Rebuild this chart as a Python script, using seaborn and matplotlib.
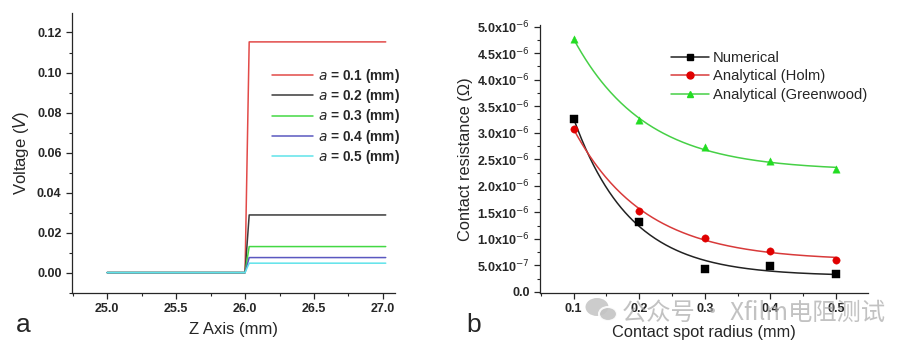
import numpy as np
import pandas as pd
import matplotlib
matplotlib.use("Agg")
import matplotlib.pyplot as plt
from matplotlib.lines import Line2D
from matplotlib.patches import Ellipse
from matplotlib.ticker import MultipleLocator, FuncFormatter
import seaborn as sns

# ---------------- data ----------------
# panel a: voltage profiles along Z
z_points = [25.0, 26.0, 26.03, 27.02]
radii_a = ["0.1", "0.2", "0.3", "0.4", "0.5"]
plateau_voltage = [0.1153, 0.0288, 0.0130, 0.0075, 0.0047]
colors_a = ["#e24a48", "#3a3a3a", "#44d844", "#5a58c0", "#5fe3ea"]

# panel b: contact resistance vs spot radius
radius_b = [0.1, 0.2, 0.3, 0.4, 0.5]
numerical = [3.25e-6, 1.31e-6, 0.43e-6, 0.48e-6, 0.34e-6]
holm = [3.07e-6, 1.53e-6, 1.02e-6, 0.77e-6, 0.61e-6]
greenwood = [4.77e-6, 3.23e-6, 2.73e-6, 2.46e-6, 2.31e-6]
series_b = ["Numerical", "Analytical (Holm)", "Analytical (Greenwood)"]
colors_b_line = ["#222222", "#d83a3a", "#46d046"]
colors_b_mark = ["#000000", "#e00000", "#22dd22"]
markers_b = ["s", "o", "^"]

W, H = 911, 349

# ---------------- figure ----------------
sns.set_style("ticks")
plt.rcParams["font.family"] = ["Liberation Sans", "DejaVu Sans"]
fig = plt.figure(figsize=(W / 100, H / 100), dpi=100)

axA = fig.add_axes([0.079, 0.1605, 0.355, 0.802])
axB = fig.add_axes([0.5928, 0.1605, 0.36, 0.768])

# ---- panel a ----
rows = []
for r, v in zip(radii_a, plateau_voltage):
    vals = [0.0, 0.0, v, v]
    for z, val in zip(z_points, vals):
        rows.append({"z": z, "V": val, "a": r})
dfa = pd.DataFrame(rows)
sns.lineplot(data=dfa, x="z", y="V", hue="a", palette=colors_a, lw=1.1,
             ax=axA, legend=False, sort=False, estimator=None)
axA.set_xlim(24.745, 27.09)
axA.set_ylim(-0.0102, 0.1297)
axA.xaxis.set_major_locator(MultipleLocator(0.5))
axA.xaxis.set_minor_locator(MultipleLocator(0.25))
axA.yaxis.set_major_locator(MultipleLocator(0.02))
axA.yaxis.set_minor_locator(MultipleLocator(0.01))
axA.xaxis.set_major_formatter(FuncFormatter(lambda v, p: f"{v:.1f}"))
axA.yaxis.set_major_formatter(FuncFormatter(lambda v, p: f"{v:.2f}"))
axA.tick_params(axis="both", which="major", labelsize=9, length=4, width=0.9, direction="out")
axA.tick_params(axis="both", which="minor", length=2.5, width=0.8, direction="out")
for lab in axA.get_xticklabels() + axA.get_yticklabels():
    lab.set_fontweight("bold")
axA.set_xlabel("Z Axis (mm)", fontsize=12, labelpad=5)
axA.set_ylabel("Voltage ($\\it{V}$)", fontsize=12, labelpad=4)
sns.despine(ax=axA)
for s in ["left", "bottom"]:
    axA.spines[s].set_linewidth(0.9)
handlesA = [Line2D([], [], color=c, lw=1.1) for c in colors_a]
labelsA = [f"$\\bf{{\\it{{a}}}}$ = {r} (mm)" for r in radii_a]
axA.legend(handlesA, labelsA, loc="upper left", bbox_to_anchor=(0.60, 0.828),
           frameon=False, handlelength=3.0, handletextpad=0.35,
           labelspacing=0.17, borderaxespad=0,
           prop={"weight": "bold", "size": 9.9})

# ---- panel b ----
def expdec_fit(x, y, xs):
    x = np.asarray(x); y = np.asarray(y)
    best = None
    for t in np.linspace(0.02, 1.0, 2000):
        X = np.column_stack([np.ones_like(x), np.exp(-x / t)])
        coef = np.linalg.lstsq(X, y, rcond=None)[0]
        err = np.sum((X @ coef - y) ** 2)
        if best is None or err < best[0]:
            best = (err, t, coef)
    _, t, coef = best
    return coef[0] + coef[1] * np.exp(-xs / t)

xs = np.linspace(0.1, 0.5, 200)
for name, ys, cl, cm, mk in zip(series_b, [numerical, holm, greenwood],
                                colors_b_line, colors_b_mark, markers_b):
    fit = expdec_fit(radius_b, ys, xs)
    sns.lineplot(x=xs, y=fit, color=cl, lw=1.1, ax=axB, legend=False)
    sns.scatterplot(x=radius_b, y=ys, color=cm, marker=mk, s=28,
                    edgecolor=cm, linewidth=0.3, ax=axB, legend=False, zorder=3)

axB.set_xlim(0.0486, 0.549)
axB.set_ylim(-0.02e-6, 5.03e-6)
axB.xaxis.set_major_locator(MultipleLocator(0.1))
axB.xaxis.set_minor_locator(MultipleLocator(0.05))
axB.yaxis.set_major_locator(MultipleLocator(0.5e-6))
axB.yaxis.set_minor_locator(MultipleLocator(0.25e-6))

def sci_fmt(v, p):
    if abs(v) < 1e-12:
        return "0.0"
    e = int(np.floor(np.log10(abs(v)) + 1e-9))
    m = v / 10 ** e
    return f"{m:.1f}x10$^{{{e}}}$"

axB.xaxis.set_major_formatter(FuncFormatter(lambda v, p: f"{v:.1f}"))
axB.yaxis.set_major_formatter(FuncFormatter(sci_fmt))
axB.tick_params(axis="both", which="major", labelsize=9, length=4, width=0.9, direction="out")
axB.tick_params(axis="both", which="minor", length=2.5, width=0.8, direction="out")
for lab in axB.get_xticklabels() + axB.get_yticklabels():
    lab.set_fontweight("bold")
axB.set_xlabel("Contact spot radius (mm)", fontsize=11.8, labelpad=7)
axB.set_ylabel("Contact resistance (Ω)", fontsize=11.8, labelpad=3)
sns.despine(ax=axB)
for s in ["left", "bottom"]:
    axB.spines[s].set_linewidth(0.9)
handlesB = [Line2D([], [], color=cl, lw=1.1, marker=mk, markersize=5,
                   markerfacecolor=cm, markeredgecolor=cm)
            for cl, cm, mk in zip(colors_b_line, colors_b_mark, markers_b)]
axB.legend(handlesB, series_b, loc="upper left", bbox_to_anchor=(0.38, 0.925),
           frameon=False, handlelength=2.6, handletextpad=0.27,
           labelspacing=0.3, borderaxespad=0, prop={"size": 10.6})

# panel letters
fig.text(16 / W, 1 - 325 / H, "a", fontsize=19, va="center", ha="left")
fig.text(466 / W, 1 - 325 / H, "b", fontsize=19, va="center", ha="left")

# watermark (icon + text)
fig.patches.append(Ellipse((597 / W, 1 - 307 / H), 23 / W, 18 / H,
                           transform=fig.transFigure, facecolor="#c4c4c4",
                           edgecolor="none", alpha=0.85, zorder=5))
fig.patches.append(Ellipse((608 / W, 1 - 314 / H), 18 / W, 14 / H,
                           transform=fig.transFigure, facecolor="#c4c4c4",
                           edgecolor="white", linewidth=1.5, alpha=0.9, zorder=6))
fig.text(622 / W, 1 - 313 / H, "公众号 · Xfilm电阻测试", fontsize=17.5,
         color="#a8a8a8", alpha=0.7, va="center", ha="left",
         family=["Noto Sans CJK SC", "DejaVu Sans"])

fig.savefig("out.png", dpi=100)
